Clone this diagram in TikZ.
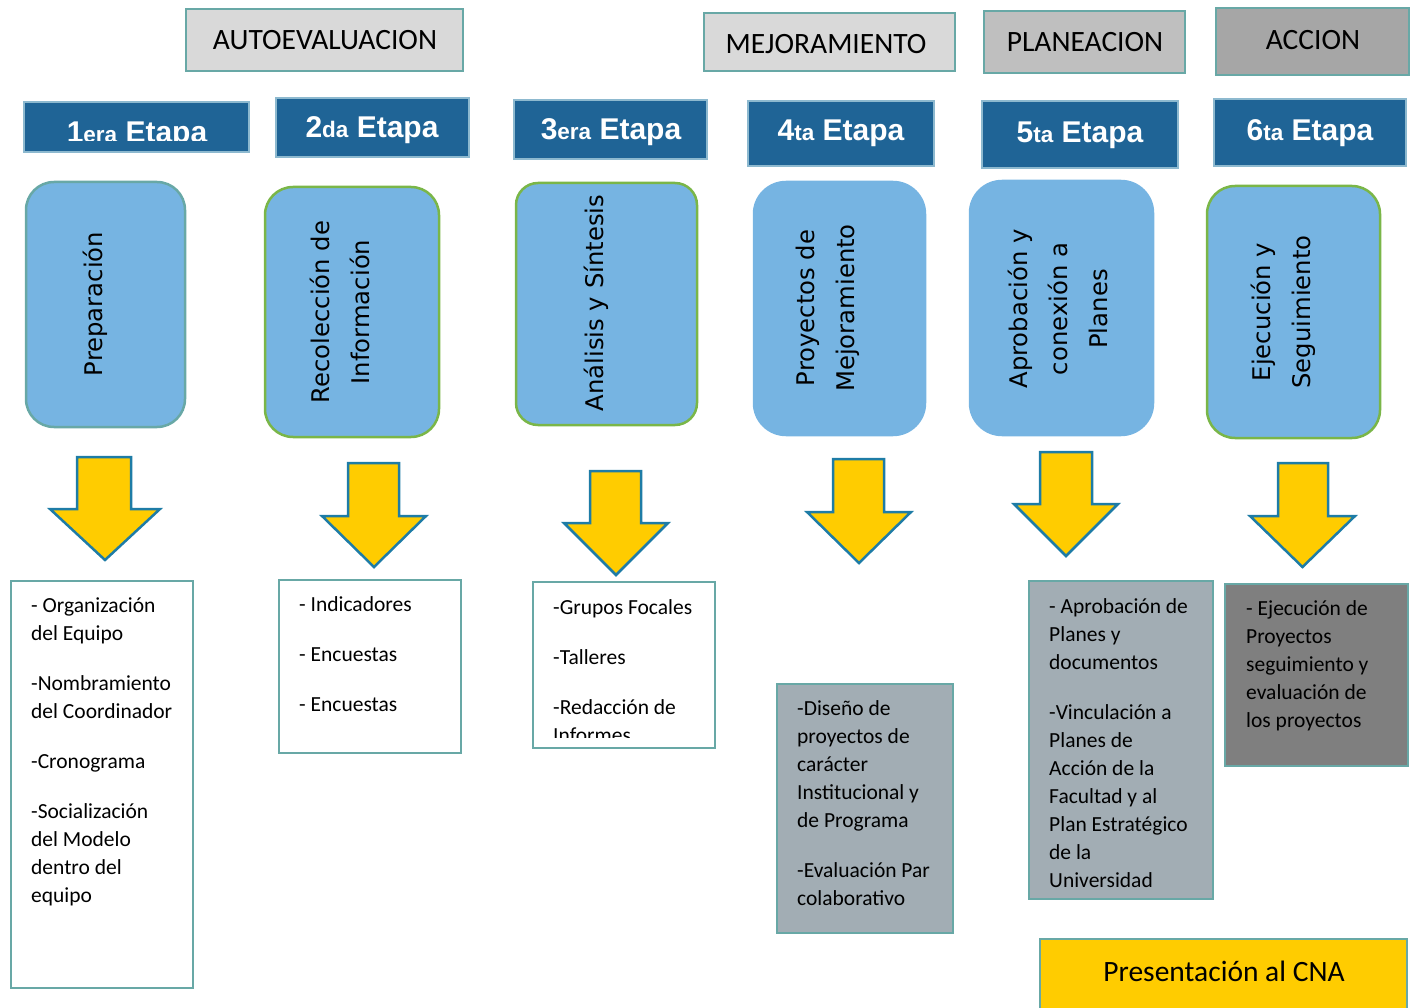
\documentclass[tikz,border=0pt]{standalone}
\usepackage{fontspec}
\setmainfont{Carlito}
\newfontfamily\vfont{DejaVu Sans}
\newfontfamily\hfont{Liberation Sans}
\definecolor{tealb}{HTML}{68A8A6}
\definecolor{headblue}{HTML}{1F6496}
\definecolor{headedge}{HTML}{8DB9CF}
\definecolor{lblue}{HTML}{76B4E2}
\definecolor{greenb}{HTML}{7AB648}
\definecolor{ayellow}{HTML}{FFCC00}
\definecolor{aedge}{HTML}{1E7CA6}
\definecolor{greyblue}{HTML}{A2ADB4}
\definecolor{dgrey}{HTML}{7F7F7F}
\newcommand{\blockarrow}[8]{%
  \draw[yarrow] (#2,#4) -- (#3,#4) -- (#3,#5) -- (#7,#5) -- ({(#6+#7)/2},#8) coordinate (#1) -- (#6,#5) -- (#2,#5) -- cycle;}
\newcommand{\etapa}[2]{#1{\fontsize{22.5}{22.5}\selectfont #2} Etapa}
\begin{document}
\begin{tikzpicture}[x=1pt,y=-1pt,
  box/.style={anchor=north west, inner sep=0pt, outer sep=0pt},
  catbox/.style={box, draw=tealb, line width=2.5pt, fill=#1},
  cattext/.style={font=\fontsize{29.5}{32}\selectfont, inner sep=0pt},
  headbox/.style={box, fill=headblue, draw=headedge, line width=1.2pt},
  headtext/.style={font=\hfont\bfseries\fontsize{30}{32}\selectfont, text=white, inner sep=0pt},
  stagebox/.style={box, fill=lblue, rounded corners=28pt, line width=2.5pt},
  stagetext/.style={font=\vfont\fontsize{24.3}{40}\selectfont, rotate=90, align=center, inner sep=0pt},
  yarrow/.style={fill=ayellow, draw=aedge, line width=2.5pt, line join=miter},
  listbox/.style={box, draw=tealb, line width=2.5pt, fill=#1},
  listtext/.style={anchor=north west, inner sep=0pt, align=left, font=\fontsize{21.5}{28}\selectfont}
]
\useasboundingbox (0,0) rectangle (1414,1008);

% category boxes
\node[catbox=black!15, minimum width=277pt, minimum height=62pt] (c1) at (186,9) {};
\node[cattext] (c1t) at (325,40) {AUTOEVALUACION};
\node[catbox=black!15, minimum width=251pt, minimum height=58pt] (c2) at (704,13) {};
\node[cattext] (c2t) at (826,44) {MEJORAMIENTO};
\node[catbox=black!25, minimum width=201pt, minimum height=62pt] (c3) at (984,11) {};
\node[cattext] (c3t) at (1085,42) {PLANEACION};
\node[catbox=black!35, minimum width=193pt, minimum height=67pt] (c4) at (1216,8) {};
\node[cattext] (c4t) at (1313,40) {ACCION};

% stage headers
\node[headbox, minimum width=225pt, minimum height=50pt] (e1) at (24,102) {};
\begin{scope}
  \clip (24,102) rectangle (249,141);
  \node[headtext] (e1t) at (137,135) {\etapa{1}{era}};
\end{scope}
\node[headbox, minimum width=193pt, minimum height=59pt] (e2) at (276,98) {};
\node[headtext] (e2t) at (372,130) {\etapa{2}{da}};
\node[headbox, minimum width=193pt, minimum height=59pt] (e3) at (514,100) {};
\node[headtext] (e3t) at (611,132) {\etapa{3}{era}};
\node[headbox, minimum width=186pt, minimum height=65pt] (e4) at (748,101) {};
\node[headtext] (e4t) at (841,133) {\etapa{4}{ta}};
\node[headbox, minimum width=196pt, minimum height=67pt] (e5) at (982,101) {};
\node[headtext] (e5t) at (1080,135) {\etapa{5}{ta}};
\node[headbox, minimum width=192pt, minimum height=67pt] (e6) at (1214,99) {};
\node[headtext] (e6t) at (1310,133) {\etapa{6}{ta}};

% stage boxes
\node[stagebox, draw=tealb, minimum width=159pt, minimum height=245pt] (r1) at (26,182) {};
\node[stagetext] (r1t) at (95,304) {Preparación};
\node[stagebox, draw=greenb, minimum width=174pt, minimum height=250pt] (r2) at (265,187) {};
\node[stagetext] (r2t) at (340,312) {Recolección de\\Información};
\node[stagebox, draw=greenb, rounded corners=22pt, minimum width=181pt, minimum height=242pt] (r3) at (516,183) {};
\node[stagetext] (r3t) at (596,303) {Análisis y Síntesis};
\node[stagebox, draw=lblue, rounded corners=32pt, minimum width=171pt, minimum height=253pt] (r4) at (754,182) {};
\node[stagetext] (r4t) at (828,308) {Proyectos de\\Mejoramiento};
\node[stagebox, draw=lblue, rounded corners=32pt, minimum width=183pt, minimum height=254pt] (r5) at (970,181) {};
\node[stagetext] (r5t) at (1058,309) {Aprobación y\\conexión a\\Planes};
\node[stagebox, draw=greenb, minimum width=173pt, minimum height=252pt] (r6) at (1207,186) {};
\node[stagetext] (r6t) at (1283,312) {Ejecución y\\Seguimiento};

% yellow arrows
\blockarrow{a1}{77}{131}{457}{509}{50}{160}{560}
\blockarrow{a2}{348}{399}{463}{516}{322}{426}{567}
\blockarrow{a3}{590}{641}{471}{523}{564}{668}{575}
\blockarrow{a4}{833}{884}{459}{512}{807}{911}{563}
\blockarrow{a5}{1040}{1092}{452}{504}{1014}{1118}{556}
\blockarrow{a6}{1278}{1328}{463}{516}{1250}{1355}{567}

% list boxes
\node[listbox=white, minimum width=182pt, minimum height=407pt] (b1) at (11,581) {};
\node[listtext] (b1t) at (31,598) {- Organización\\del Equipo\\[22pt]-Nombramiento\\del Coordinador\\[22pt]-Cronograma\\[22pt]-Socialización\\del Modelo\\dentro del\\equipo};

\node[listbox=white, minimum width=182pt, minimum height=173pt] (b2) at (279,580) {};
\node[listtext] (b2t) at (299,596) {- Indicadores\\[22pt]- Encuestas\\[22pt]- Encuestas};

\node[listbox=white, minimum width=182pt, minimum height=166pt] (b3) at (533,582) {};
\begin{scope}
  \clip (535,584) rectangle (713,737);
  \node[listtext] (b3t) at (553,599) {-Grupos Focales\\[22pt]-Talleres\\[22pt]-Redacción de\\Informes};
\end{scope}

\node[listbox=greyblue, minimum width=176pt, minimum height=249pt] (b4) at (777,684) {};
\node[listtext] (b4t) at (797,700) {-Diseño de\\proyectos de\\carácter\\Institucional y\\de Programa\\[22pt]-Evaluación Par\\colaborativo};

\node[listbox=greyblue, minimum width=184pt, minimum height=318pt] (b5) at (1029,581) {};
\node[listtext] (b5t) at (1049,598) {- Aprobación de\\Planes y\\documentos\\[22pt]-Vinculación a\\Planes de\\Acción de la\\Facultad y al\\Plan Estratégico\\de la\\Universidad};

\node[listbox=dgrey, minimum width=183pt, minimum height=182pt] (b6) at (1225,584) {};
\node[listtext] (b6t) at (1246,600) {- Ejecución de\\Proyectos\\seguimiento y\\evaluación de\\los proyectos};

\node[listbox=ayellow, minimum width=367pt, minimum height=80pt] (b7) at (1040,939) {};
\node[cattext] (b7t) at (1224,971) {Presentación al CNA};
\end{tikzpicture}
\end{document}
